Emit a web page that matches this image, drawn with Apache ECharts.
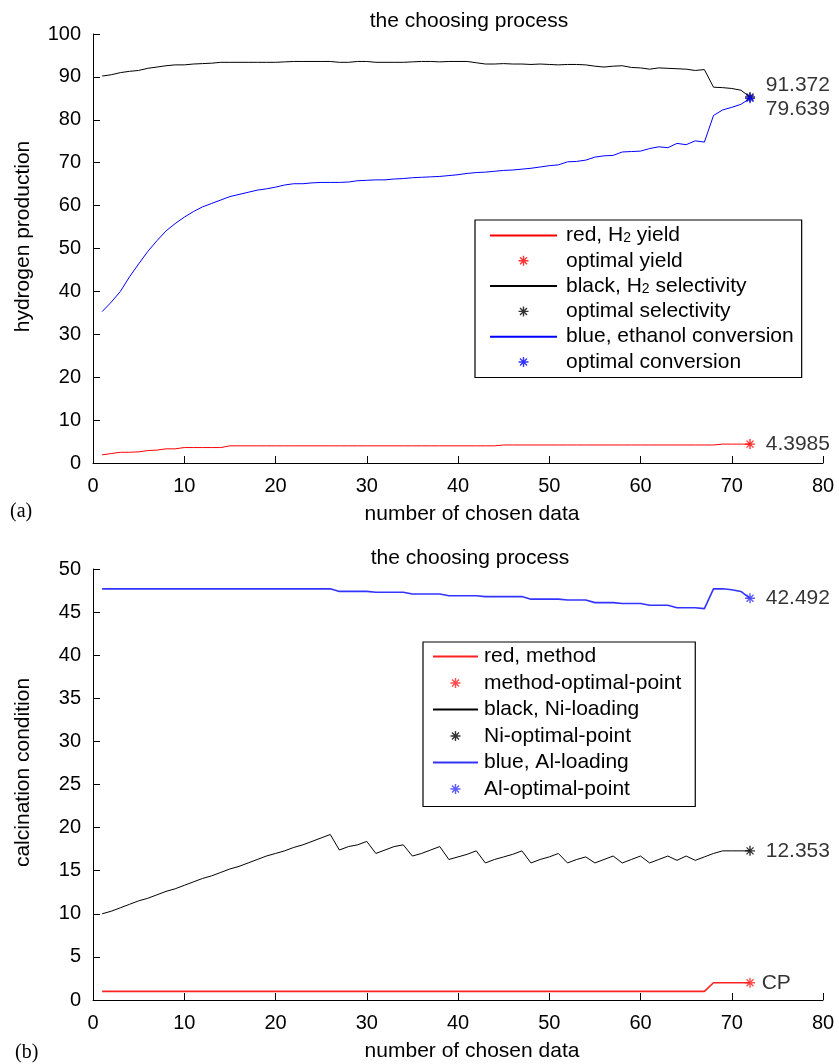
<!DOCTYPE html>
<html>
<head>
<meta charset="utf-8">
<script src="https://cdn.jsdelivr.net/npm/echarts@6/dist/echarts.min.js"></script>
<style>
  html, body { margin: 0; padding: 0; background: #fff; }
  #main { width: 839px; height: 1064px; }
</style>
</head>
<body>
<div id="main"></div>
<script>
// (a) hydrogen production, x = number of chosen data (1..72)
var yieldH2 = [1.9, 2.2, 2.5, 2.5, 2.6, 2.9, 3.0, 3.3, 3.3, 3.6, 3.6, 3.6, 3.6, 3.6, 4.0, 4.0, 4.0, 4.0, 4.0, 4.0,
  4.0, 4.0, 4.0, 4.0, 4.0, 4.0, 4.0, 4.0, 4.0, 4.0, 4.0, 4.0, 4.0, 4.0, 4.0, 4.0, 4.0, 4.0, 4.0, 4.0,
  4.0, 4.0, 4.0, 4.0, 4.2, 4.2, 4.2, 4.2, 4.2, 4.2, 4.2, 4.2, 4.2, 4.2, 4.2, 4.2, 4.2, 4.2, 4.2, 4.2,
  4.2, 4.2, 4.2, 4.2, 4.2, 4.2, 4.2, 4.2, 4.4, 4.4, 4.4, 4.4];
var selectH2 = [90.2, 90.5, 91.0, 91.3, 91.5, 92.0, 92.3, 92.6, 92.8, 92.8, 93.0, 93.1, 93.2, 93.4, 93.4, 93.4, 93.4, 93.4, 93.4, 93.4,
  93.5, 93.6, 93.6, 93.6, 93.6, 93.6, 93.4, 93.4, 93.6, 93.6, 93.4, 93.4, 93.4, 93.4, 93.5, 93.6, 93.6, 93.5, 93.6, 93.6,
  93.6, 93.3, 93.0, 93.0, 93.1, 93.0, 93.0, 92.9, 93.0, 92.9, 92.8, 92.9, 92.9, 92.8, 92.5, 92.3, 92.5, 92.6, 92.2, 92.1,
  91.8, 92.1, 92.0, 91.9, 91.8, 91.5, 91.7, 87.6, 87.5, 87.3, 86.9, 85.3];
var convEthanol = [35.3, 37.5, 40.0, 43.4, 46.4, 49.3, 51.8, 54.1, 55.8, 57.3, 58.6, 59.7, 60.5, 61.3, 62.1, 62.6, 63.1, 63.6, 63.9, 64.3,
  64.8, 65.1, 65.1, 65.3, 65.4, 65.4, 65.4, 65.5, 65.8, 65.9, 66.0, 66.0, 66.2, 66.3, 66.5, 66.6, 66.7, 66.8, 67.0, 67.2,
  67.5, 67.7, 67.8, 68.0, 68.2, 68.3, 68.5, 68.7, 69.0, 69.3, 69.5, 70.2, 70.3, 70.6, 71.3, 71.6, 71.7, 72.5, 72.6, 72.7,
  73.3, 73.7, 73.5, 74.5, 74.2, 75.1, 74.8, 81.0, 82.3, 82.9, 83.6, 85.0];
var optYieldA = [72, 4.4];
var optSelectA = [72, 85.3];
var optConvA = [72, 85.0];

// (b) calcination condition
var method = [1, 1, 1, 1, 1, 1, 1, 1, 1, 1, 1, 1, 1, 1, 1, 1, 1, 1, 1, 1,
  1, 1, 1, 1, 1, 1, 1, 1, 1, 1, 1, 1, 1, 1, 1, 1, 1, 1, 1, 1,
  1, 1, 1, 1, 1, 1, 1, 1, 1, 1, 1, 1, 1, 1, 1, 1, 1, 1, 1, 1,
  1, 1, 1, 1, 1, 1, 1, 2, 2, 2, 2, 2];
var niLoading = [10.0, 10.3, 10.7, 11.1, 11.5, 11.8, 12.2, 12.6, 12.9, 13.3, 13.7, 14.1, 14.4, 14.8, 15.2, 15.5, 15.9, 16.3, 16.7, 17.0,
  17.3, 17.7, 18.0, 18.4, 18.8, 19.2, 17.4, 17.8, 18.0, 18.4, 17.0, 17.4, 17.8, 18.0, 16.7, 17.0, 17.4, 17.8, 16.3, 16.6,
  16.9, 17.3, 15.9, 16.3, 16.6, 16.9, 17.3, 15.9, 16.3, 16.6, 17.0, 15.9, 16.3, 16.6, 15.9, 16.3, 16.7, 15.9, 16.3, 16.7,
  15.9, 16.3, 16.7, 16.2, 16.7, 16.2, 16.6, 17.0, 17.3, 17.3, 17.3, 17.3];
var alLoading = [47.7, 47.7, 47.7, 47.7, 47.7, 47.7, 47.7, 47.7, 47.7, 47.7, 47.7, 47.7, 47.7, 47.7, 47.7, 47.7, 47.7, 47.7, 47.7, 47.7,
  47.7, 47.7, 47.7, 47.7, 47.7, 47.7, 47.4, 47.4, 47.4, 47.4, 47.3, 47.3, 47.3, 47.3, 47.1, 47.1, 47.1, 47.1, 46.9, 46.9,
  46.9, 46.9, 46.8, 46.8, 46.8, 46.8, 46.8, 46.5, 46.5, 46.5, 46.5, 46.4, 46.4, 46.4, 46.1, 46.1, 46.1, 46.0, 46.0, 46.0,
  45.8, 45.8, 45.8, 45.5, 45.5, 45.5, 45.4, 47.7, 47.7, 47.6, 47.4, 46.6];
var optMethodB = [72, 2.0];
var optNiB = [72, 17.3];
var optAlB = [72, 46.6];

// texts shown next to the optimal points
var labelsA = ["4.3985", "91.372", "79.639"];
var labelsB = ["CP", "12.353", "42.492"];

var FONT = "Liberation Sans";
var STAR = "path://M0,5L10,5M5,0L5,10M1.5,1.5L8.5,8.5M1.5,8.5L8.5,1.5";
var NO_SYMBOL = { color: "rgba(0,0,0,0)", borderWidth: 0, opacity: 0 };

function lineSeries(name, vals, color, width, idx) {
  return {
    name: name,
    type: "line",
    xAxisIndex: idx,
    yAxisIndex: idx,
    data: vals.map(function (v, i) { return [i + 1, v]; }),
    symbol: "none",
    lineStyle: { color: color, width: width },
    itemStyle: { color: color },
    animation: false
  };
}

function starSeries(name, pt, color, text, offset, idx) {
  return {
    name: name,
    type: "scatter",
    xAxisIndex: idx,
    yAxisIndex: idx,
    data: [pt],
    symbol: STAR,
    symbolSize: 10,
    z: 5,
    itemStyle: { color: color, borderColor: color, borderWidth: 1.4 },
    label: {
      show: true,
      position: "right",
      distance: 10,
      offset: offset,
      formatter: text,
      color: "#000",
      fontSize: 21,
      fontFamily: FONT
    },
    animation: false
  };
}

function xAxis(idx) {
  return {
    type: "value",
    gridIndex: idx,
    min: 0,
    max: 80,
    interval: 10,
    name: "number of chosen data",
    nameLocation: "middle",
    nameGap: 41,
    nameTextStyle: { color: "#000", fontSize: 21, fontFamily: FONT, padding: [0, 0, 0, 28] },
    axisLine: { lineStyle: { color: "#000", width: 1 } },
    axisTick: { inside: true, length: 7, lineStyle: { color: "#000" } },
    axisLabel: { color: "#000", fontSize: 20, fontFamily: FONT, margin: 13 },
    splitLine: { show: false }
  };
}

function yAxis(idx, name, max, interval) {
  return {
    type: "value",
    gridIndex: idx,
    min: 0,
    max: max,
    interval: interval,
    name: name,
    nameLocation: "middle",
    nameGap: 59,
    nameTextStyle: { color: "#000", fontSize: 21, fontFamily: FONT, padding: [0, 0, 0, 24] },
    axisLine: { show: true, lineStyle: { color: "#000", width: 1 } },
    axisTick: { show: true, inside: true, length: 7, lineStyle: { color: "#000" } },
    axisLabel: { color: "#000", fontSize: 20, fontFamily: FONT, margin: 12 },
    splitLine: { show: false }
  };
}

function legendText(name) {
  return name.replace("H2", "H{sub|2}");
}

var legendTextStyle = {
  color: "#000",
  fontSize: 21,
  fontFamily: FONT,
  lineHeight: 20,
  rich: { sub: { fontSize: 14, fontFamily: FONT, color: "#000", lineHeight: 8, verticalAlign: "bottom" } }
};

var chart = echarts.init(document.getElementById("main"));
chart.setOption({
  backgroundColor: "#fff",
  animation: false,
  title: [
    { text: "the choosing process", left: 469, top: 11, padding: 0, textAlign: "center",
      textStyle: { color: "#000", fontSize: 21, fontWeight: "normal", fontFamily: FONT } },
    { text: "the choosing process", left: 470, top: 548, padding: 0, textAlign: "center",
      textStyle: { color: "#000", fontSize: 21, fontWeight: "normal", fontFamily: FONT } }
  ],
  grid: [
    { left: 93, right: 16, top: 34, height: 429 },
    { left: 93, right: 16, top: 569, height: 431 }
  ],
  xAxis: [xAxis(0), xAxis(1)],
  yAxis: [yAxis(0, "hydrogen production", 100, 10), yAxis(1, "calcination condition", 50, 5)],
  legend: [
    {
      orient: "vertical",
      left: 475,
      top: 220,
      padding: [5, 8, 5, 14],
      itemGap: 4.3,
      itemWidth: 67,
      itemHeight: 10,
      borderColor: "#000",
      borderWidth: 1.2,
      backgroundColor: "#fff",
      formatter: legendText,
      textStyle: Object.assign({ padding: [0, 0, 0, 4] }, legendTextStyle),
      data: [
        { name: "red, H2 yield", itemStyle: NO_SYMBOL },
        { name: "optimal yield", itemStyle: { borderColor: "#f00", borderWidth: 1.4 } },
        { name: "black, H2 selectivity", itemStyle: NO_SYMBOL },
        { name: "optimal selectivity", itemStyle: { borderColor: "#000", borderWidth: 1.4 } },
        { name: "blue, ethanol conversion", itemStyle: NO_SYMBOL },
        { name: "optimal conversion", itemStyle: { borderColor: "#00f", borderWidth: 1.4 } }
      ]
    },
    {
      orient: "vertical",
      left: 423,
      top: 642,
      padding: [4, 14, 7, 9],
      itemGap: 5.5,
      itemWidth: 45,
      itemHeight: 10,
      borderColor: "#000",
      borderWidth: 1.2,
      backgroundColor: "#fff",
      textStyle: Object.assign({ padding: [0, 0, 0, 1] }, legendTextStyle),
      data: [
        { name: "red, method", itemStyle: NO_SYMBOL },
        { name: "method-optimal-point", itemStyle: { borderColor: "#f22", borderWidth: 1.4 } },
        { name: "black, Ni-loading", itemStyle: NO_SYMBOL },
        { name: "Ni-optimal-point", itemStyle: { borderColor: "#000", borderWidth: 1.4 } },
        { name: "blue, Al-loading", itemStyle: NO_SYMBOL },
        { name: "Al-optimal-point", itemStyle: { borderColor: "#33f", borderWidth: 1.4 } }
      ]
    }
  ],
  graphic: [
    { type: "text", left: 10, top: 502, style: { text: "(a)", fontSize: 20, fontFamily: "Liberation Serif", fill: "#000" } },
    { type: "text", left: 15, top: 1043, style: { text: "(b)", fontSize: 20, fontFamily: "Liberation Serif", fill: "#000" } }
  ],
  series: [
    lineSeries("red, H2 yield", yieldH2, "#f00", 1, 0),
    starSeries("optimal yield", optYieldA, "#f00", labelsA[0], [0, 0], 0),
    lineSeries("black, H2 selectivity", selectH2, "#000", 1, 0),
    starSeries("optimal selectivity", optSelectA, "#000", labelsA[1], [0, -12], 0),
    lineSeries("blue, ethanol conversion", convEthanol, "#00f", 1, 0),
    starSeries("optimal conversion", optConvA, "#00f", labelsA[2], [0, 11], 0),

    lineSeries("red, method", method, "#f22", 1.6, 1),
    starSeries("method-optimal-point", optMethodB, "#f22", labelsB[0], [-4, 0], 1),
    lineSeries("black, Ni-loading", niLoading, "#000", 1, 1),
    starSeries("Ni-optimal-point", optNiB, "#000", labelsB[1], [0, 0], 1),
    lineSeries("blue, Al-loading", alLoading, "#33f", 1.6, 1),
    starSeries("Al-optimal-point", optAlB, "#33f", labelsB[2], [0, 0], 1)
  ]
});
</script>
</body>
</html>
